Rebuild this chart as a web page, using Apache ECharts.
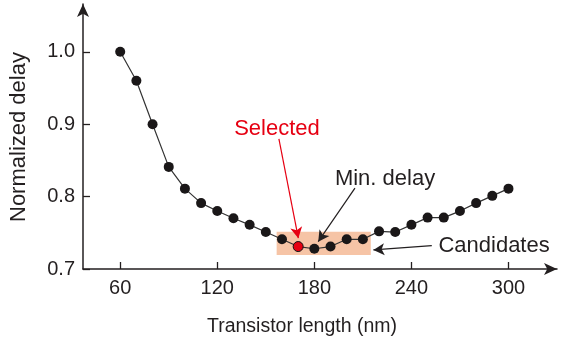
<!DOCTYPE html>
<html>
<head>
<meta charset="utf-8">
<script src="https://cdn.jsdelivr.net/npm/echarts@6/dist/echarts.min.js"></script>
<style>html,body{margin:0;padding:0;background:#fff}#c{width:567px;height:344px}</style>
</head>
<body>
<div id="c"></div>
<script>
// ---- data ----
const lengths = [60,70,80,90,100,110,120,130,140,150,160,170,180,190,200,210,220,230,240,250,260,270,280,290,300];
const delays  = [1.000,0.960,0.900,0.841,0.811,0.791,0.780,0.770,0.761,0.751,0.741,0.731,0.728,0.731,0.741,0.741,0.752,0.751,0.761,0.771,0.771,0.780,0.791,0.801,0.811];
const selectedLength = 170;
const xTicks = [60,120,180,240,300];
const yTicks = [0.7,0.8,0.9,1.0];
const xAxisRange = [37, 330];
const yAxisRange = [0.7, 1.066];
const candidateRange = [156.7, 214.9];
const candidateDelayRange = [0.7194, 0.7516];
// annotation texts and arrows (data coordinates)
const annTexts = ['Selected','Min. delay','Candidates'];
const annTextPos = [[156.9,0.8938],[223.7,0.8246],[291.1,0.7318]];
const annArrowFrom = [[158.1,0.8796],[205.1,0.8117],[252.6,0.7323]];
const annArrowTo = [[170.1,0.7425],[182.4,0.7378],[216.5,0.7263]];
const annColors = ['#e60012','#231f20','#231f20'];

const FONT = '"Liberation Sans", Arial, Helvetica, sans-serif';
const axisColor = '#231f20';
const W = 567, H = 344;
const G = {left:83, right:10, top:4, bottom:75};
const pxPerX = (W - G.left - G.right) / (xAxisRange[1] - xAxisRange[0]);
const pxPerY = (H - G.top - G.bottom) / (yAxisRange[1] - yAxisRange[0]);
const TICK_PX = 7;
const tickLenX = TICK_PX / pxPerX, tickLenY = TICK_PX / pxPerY;

const chart = echarts.init(document.getElementById('c'), null, {renderer:'canvas'});

const lineData = lengths.map((x,i)=>{
  const d = {value:[x, delays[i]]};
  if (x === selectedLength) d.itemStyle = {color:'#e60012', borderColor:'#111', borderWidth:1};
  return d;
});

const tickStyle = {color:axisColor, width:1.3, type:'solid', opacity:1};
const tickLines = [
  ...xTicks.map(v=>[{coord:[v, yAxisRange[0]], symbol:'none', lineStyle:tickStyle},{coord:[v, yAxisRange[0]+tickLenY], symbol:'none'}]),
  ...yTicks.map(v=>[{coord:[xAxisRange[0], v], symbol:'none', lineStyle:tickStyle},{coord:[xAxisRange[0]+tickLenX, v], symbol:'none'}])
];
const arrowLines = annArrowFrom.map((f,i)=>[
  {coord:f, symbol:'none', lineStyle:{color:annColors[i], width:1.2, type:'solid', opacity:1}, itemStyle:{color:annColors[i]}},
  {coord:annArrowTo[i], symbol:'arrow'}
]);

const option = {
  animation:false,
  grid:{left:G.left, right:G.right, top:G.top, bottom:G.bottom, containLabel:false},
  xAxis:{
    type:'value', min:xAxisRange[0], max:xAxisRange[1],
    axisLine:{show:true, symbol:['none','arrow'], symbolSize:[9,13], lineStyle:{color:axisColor, width:1.5}},
    axisTick:{show:false},
    axisLabel:{customValues:xTicks, color:axisColor, fontSize:20, fontFamily:FONT, margin:9},
    splitLine:{show:false}
  },
  yAxis:{
    type:'value', min:yAxisRange[0], max:yAxisRange[1],
    axisLine:{show:true, symbol:['none','arrow'], symbolSize:[9,13], lineStyle:{color:axisColor, width:1.5}},
    axisTick:{show:false},
    axisLabel:{customValues:yTicks, color:axisColor, fontSize:20, fontFamily:FONT, margin:8, formatter:v=>v.toFixed(1)},
    splitLine:{show:false}
  },
  graphic:[
    {type:'text', left:207, top:317, style:{text:'Transistor length (nm)', fill:axisColor, font:'19.5px '+FONT}},
    {type:'text', x:8, y:222, rotation:Math.PI/2, style:{text:'Normalized delay', fill:axisColor, font:'22px '+FONT}}
  ],
  series:[
    {
      type:'line', data:lineData, symbol:'circle', symbolSize:10,
      itemStyle:{color:'#1a1718'}, lineStyle:{color:'#333', width:1.2}, z:5,
      markArea:{silent:true, itemStyle:{color:'#f6c4a6', opacity:1},
        data:[[{coord:[candidateRange[0], candidateDelayRange[0]]},{coord:[candidateRange[1], candidateDelayRange[1]]}]]},
      markLine:{silent:true, symbol:['none','arrow'], symbolSize:[9,11], label:{show:false},
        emphasis:{disabled:true}, data: arrowLines.concat(tickLines)}
    },
    {
      type:'scatter', symbolSize:0, silent:true, z:6,
      data: annTexts.map((t,i)=>({value:annTextPos[i], name:t,
        label:{show:true, position:'inside', formatter:t, color:annColors[i], opacity:1, textBorderWidth:0, fontSize:22, fontFamily:FONT}}))
    }
  ]
};
chart.setOption(option);
</script>
</body>
</html>
